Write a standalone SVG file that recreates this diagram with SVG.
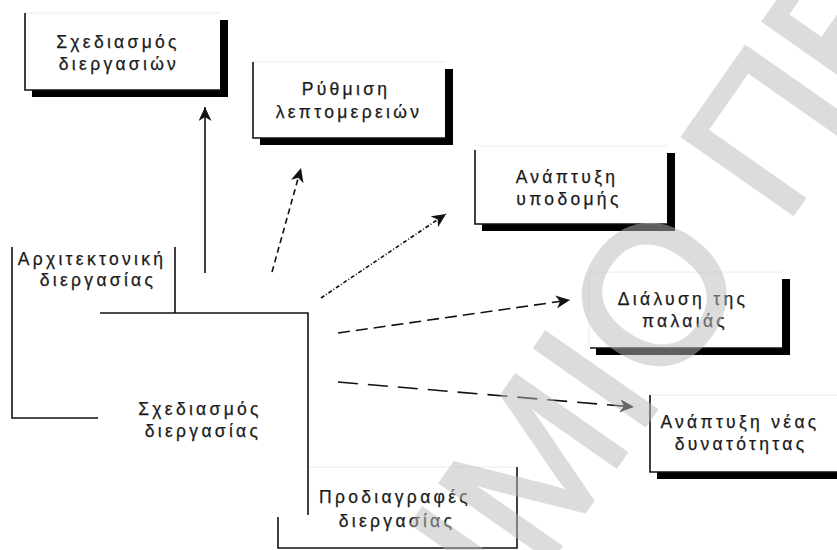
<svg xmlns="http://www.w3.org/2000/svg" width="837" height="550" viewBox="0 0 837 550">
  <style>
    .lbl { font-family: "Liberation Sans", Arial, sans-serif; font-size: 17.5px; letter-spacing: 3.3px; fill: #1a1a1a; stroke: #1a1a1a; stroke-width: 0.25; text-anchor: middle; }
    .edge { stroke: #111; stroke-width: 1.6; fill: none; }
    .faint { stroke: #ececec; stroke-width: 1; fill: none; }
    .shadow { fill: #000; }
    .face { fill: #fff; }
    .link { stroke: #111; stroke-width: 1.6; fill: none; marker-end: url(#head); }
    .wm { font-family: "Liberation Sans", Arial, sans-serif; font-size: 195px; fill: #bbbbbb; stroke: #bbbbbb; stroke-width: 4; stroke-linejoin: miter; opacity: 0.5; }
  </style>
  <defs>
    <marker id="head" markerUnits="userSpaceOnUse" markerWidth="15" markerHeight="13" refX="14" refY="6.5" orient="auto">
      <path d="M0,0 L14,6.5 L0,13 L4,6.5 Z" fill="#111"/>
    </marker>
  </defs>

  <rect width="837" height="550" fill="#fff"/>

  <!-- process architecture (partly behind the central box) -->
  <g id="arch">
    <rect class="face" x="12" y="247" width="163" height="171"/>
    <path class="edge" d="M12,247 V418 H98"/>
    <path class="edge" d="M175,247 V313"/>
    <text class="lbl" x="92" y="265">Αρχιτεκτονική</text>
    <text class="lbl" x="98" y="286">διεργασίας</text>
  </g>

  <!-- process specifications (partly behind the central box) -->
  <g id="specs">
    <rect class="face" x="278" y="467" width="239" height="81"/>
    <path class="faint" d="M308,467 H517"/>
    <path class="edge" d="M278,517 V548 H517 V467"/>
    <text class="lbl" x="395" y="503">Προδιαγραφές</text>
    <text class="lbl" x="397" y="527">διεργασίας</text>
  </g>

  <!-- central process design box -->
  <g id="design">
    <rect class="face" x="98" y="313" width="210" height="202"/>
    <path class="edge" d="M100,313 H308 V515"/>
    <text class="lbl" x="200" y="415">Σχεδιασμός</text>
    <text class="lbl" x="203" y="437">διεργασίας</text>
  </g>

  <!-- shadowed outcome boxes -->
  <g id="proc-design">
    <rect class="shadow" x="32" y="20" width="196" height="77"/>
    <rect class="face" x="25" y="13" width="195" height="77"/>
    <path class="faint" d="M25,13 H220"/>
    <path class="edge" d="M25,13 V90 H220"/>
    <text class="lbl" x="118" y="48">Σχεδιασμός</text>
    <text class="lbl" x="119" y="70">διεργασιών</text>
  </g>

  <g id="detail">
    <rect class="shadow" x="260" y="69" width="193" height="76"/>
    <rect class="face" x="253" y="62" width="192" height="76"/>
    <path class="faint" d="M253,62 H445"/>
    <path class="edge" d="M253,62 V138 H445"/>
    <text class="lbl" x="346" y="95">Ρύθμιση</text>
    <text class="lbl" x="349" y="118">λεπτομερειών</text>
  </g>

  <g id="infra">
    <rect class="shadow" x="482" y="153" width="193" height="78"/>
    <rect class="face" x="475" y="146" width="192" height="78"/>
    <path class="faint" d="M475,146 H667"/>
    <path class="edge" d="M475,150 V224 H667"/>
    <text class="lbl" x="567" y="183">Ανάπτυξη</text>
    <text class="lbl" x="569" y="205">υποδομής</text>
  </g>

  <g id="dissolve">
    <rect class="shadow" x="596" y="279" width="194" height="76"/>
    <rect class="face" x="589" y="272" width="193" height="76"/>
    <path class="faint" d="M589,272 H782 M589,272 V348"/>
    <path class="edge" d="M590,348 H782"/>
    <text class="lbl" x="683" y="305">Διάλυση της</text>
    <text class="lbl" x="685" y="327">παλαιάς</text>
  </g>

  <g id="capability">
    <rect class="shadow" x="657" y="402" width="200" height="77"/>
    <rect class="face" x="650" y="395" width="200" height="77"/>
    <path class="faint" d="M650,395 H837"/>
    <path class="edge" d="M650,395 V472 H837"/>
    <text class="lbl" x="740" y="428">Ανάπτυξη νέας</text>
    <text class="lbl" x="741" y="450">δυνατότητας</text>
  </g>

  <!-- connectors -->
  <g id="connectors">
    <line class="link" x1="205" y1="273" x2="205" y2="107"/>
    <line class="link" x1="272" y1="272" x2="301" y2="168" stroke-dasharray="6 4"/>
    <line class="link" x1="321" y1="298" x2="446" y2="214" stroke-dasharray="4 2 1 2" stroke-width="1.3"/>
    <line class="link" x1="338" y1="333" x2="570" y2="300" stroke-dasharray="12 6"/>
    <line class="link" x1="338" y1="382" x2="634" y2="407" stroke-dasharray="20 10"/>
  </g>

  <!-- page watermark -->
  <text class="wm" transform="translate(461,688) rotate(-55)">ΗΜΙΟ ΠΕ</text>
</svg>
